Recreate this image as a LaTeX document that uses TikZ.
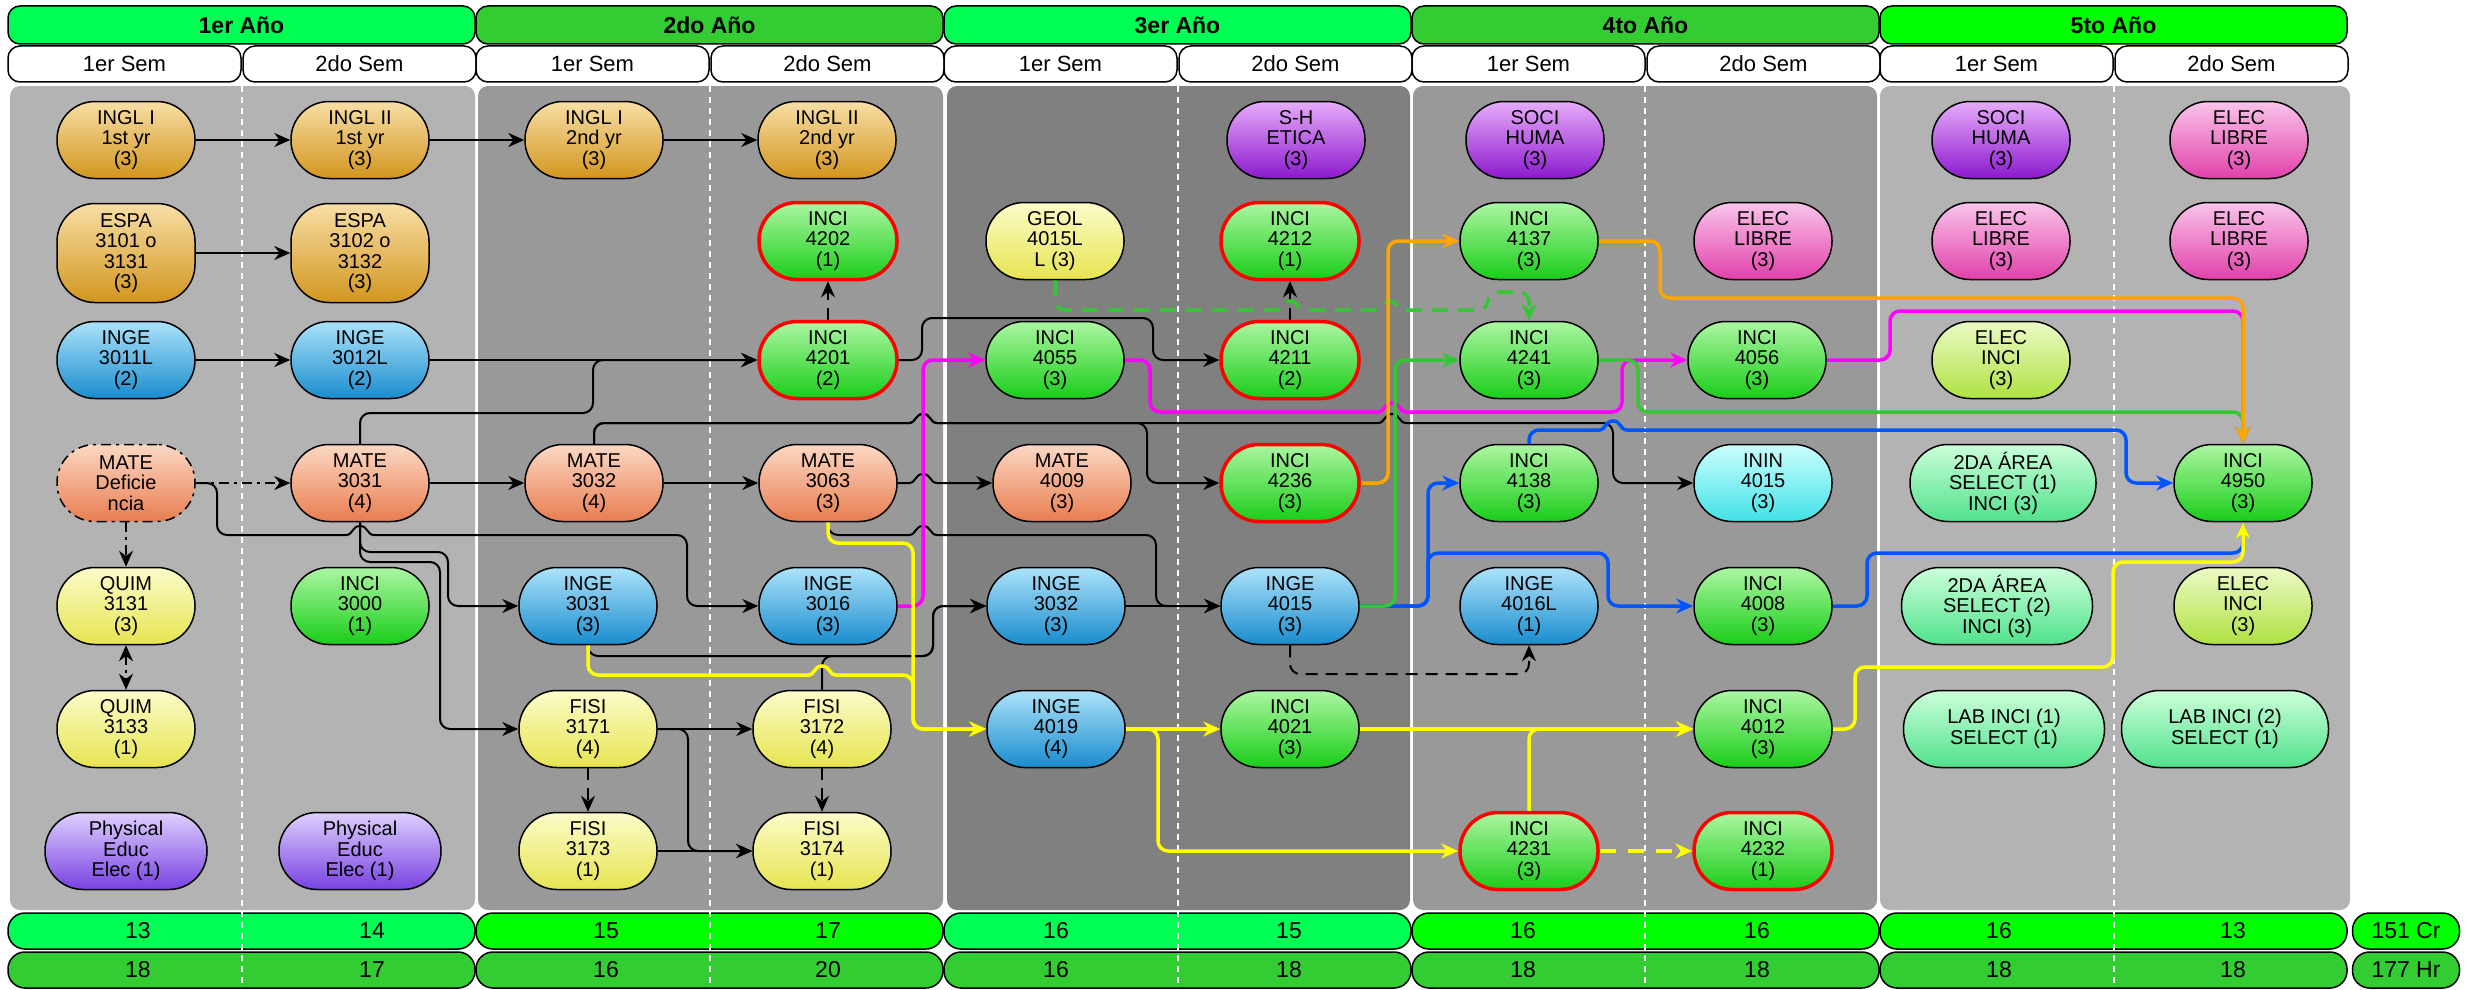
\documentclass[tikz,border=0pt]{standalone}
\usepackage{fontspec}
\setmainfont{Liberation Sans}
\usetikzlibrary{arrows.meta}

\definecolor{anioA}{RGB}{0,255,85}
\definecolor{anioB}{RGB}{51,204,51}
\definecolor{anioC}{RGB}{0,255,0}
\definecolor{panelA}{RGB}{179,179,179}
\definecolor{panelB}{RGB}{153,153,153}
\definecolor{panelC}{RGB}{128,128,128}
\definecolor{oroT}{RGB}{248,222,166}
\definecolor{oroB}{RGB}{210,150,30}
\definecolor{azulT}{RGB}{172,226,250}
\definecolor{azulB}{RGB}{25,140,205}
\definecolor{salmonT}{RGB}{252,216,196}
\definecolor{salmonB}{RGB}{232,125,80}
\definecolor{amarT}{RGB}{252,252,202}
\definecolor{amarB}{RGB}{230,228,80}
\definecolor{verdeT}{RGB}{172,246,162}
\definecolor{verdeB}{RGB}{25,205,25}
\definecolor{lilaT}{RGB}{222,208,255}
\definecolor{lilaB}{RGB}{120,65,225}
\definecolor{moradoT}{RGB}{230,172,250}
\definecolor{moradoB}{RGB}{140,25,205}
\definecolor{rosaT}{RGB}{250,196,235}
\definecolor{rosaB}{RGB}{225,65,170}
\definecolor{cianT}{RGB}{204,255,255}
\definecolor{cianB}{RGB}{65,225,230}
\definecolor{limaT}{RGB}{236,250,198}
\definecolor{limaB}{RGB}{175,225,65}
\definecolor{mentaT}{RGB}{204,255,218}
\definecolor{mentaB}{RGB}{80,225,140}
\definecolor{lineaN}{RGB}{255,165,0}
\definecolor{lineaV}{RGB}{51,200,51}
\definecolor{lineaA}{RGB}{0,85,255}
\definecolor{lineaM}{RGB}{255,0,255}
\definecolor{lineaY}{RGB}{255,255,0}

\tikzset{
	curso/.style={draw=black, line width=1.5pt, rounded corners=38pt, minimum width=138pt,
		minimum height=77pt, inner sep=0pt, align=center, font=\fontsize{20}{20.5}\selectfont},
	rojo/.style={draw=red, line width=3.5pt},
	oro/.style={top color=oroT, bottom color=oroB},
	azul/.style={top color=azulT, bottom color=azulB},
	salmon/.style={top color=salmonT, bottom color=salmonB},
	amar/.style={top color=amarT, bottom color=amarB},
	verde/.style={top color=verdeT, bottom color=verdeB},
	lila/.style={top color=lilaT, bottom color=lilaB},
	morado/.style={top color=moradoT, bottom color=moradoB},
	rosa/.style={top color=rosaT, bottom color=rosaB},
	cian/.style={top color=cianT, bottom color=cianB},
	lima/.style={top color=limaT, bottom color=limaB},
	menta/.style={top color=mentaT, bottom color=mentaB},
	anio/.style={draw=black, line width=1.5pt, rounded corners=12pt, minimum width=467pt,
		minimum height=38pt, font=\bfseries\fontsize{23}{23}\selectfont},
	sem/.style={draw=black, line width=1.5pt, fill=white, rounded corners=12pt, minimum width=233pt,
		minimum height=36pt, font=\fontsize{22}{22}\selectfont},
	pie/.style={draw=black, line width=1.5pt, rounded corners=17pt, minimum width=467pt, minimum height=36pt},
	num/.style={font=\fontsize{23}{23}\selectfont},
	negra/.style={draw=black, line width=2pt, rounded corners=10pt, -{Stealth[length=16pt,width=14pt]}},
	gruesa/.style={line width=3.5pt, rounded corners=10pt, -{Stealth[length=17pt,width=15pt]}},
	rayas/.style={dash pattern=on 12pt off 8pt},
	puntoraya/.style={dash pattern=on 10pt off 5pt on 3pt off 5pt},
	semraya/.style={draw=white, line width=1.5pt, dash pattern=on 6pt off 5pt},
	salto/.style 2 args={insert path={[sharp corners] -- (#1-14,#2) .. controls (#1-7,#2) and (#1-8,#2-9) .. (#1,#2-9)
		.. controls (#1+8,#2-9) and (#1+7,#2) .. (#1+14,#2) [rounded corners=10pt]}}
}

\begin{document}
\begin{tikzpicture}[x=1pt,y=-1pt]
	\useasboundingbox (0,0) rectangle (2466,990);

	\fill[panelA, rounded corners=10pt] (10,86) rectangle (475,910);
	\fill[panelB, rounded corners=10pt] (478,86) rectangle (943,910);
	\fill[panelC, rounded corners=10pt] (947,86) rectangle (1410,910);
	\fill[panelB, rounded corners=10pt] (1413,86) rectangle (1877,910);
	\fill[panelA, rounded corners=10pt] (1880,86) rectangle (2350,910);

	\node[anio, fill=anioA] (y1) at (241.5,25) {1er Año};
	\node[anio, fill=anioB] (y2) at (709.5,25) {2do Año};
	\node[anio, fill=anioA] (y3) at (1177.5,25) {3er Año};
	\node[anio, fill=anioB] (y4) at (1645.5,25) {4to Año};
	\node[anio, fill=anioC] (y5) at (2113.5,25) {5to Año};
	\node[sem] (s1) at (124.5,64) {1er Sem};
	\node[sem] (s2) at (359.5,64) {2do Sem};
	\node[sem] (s3) at (592.5,64) {1er Sem};
	\node[sem] (s4) at (827.5,64) {2do Sem};
	\node[sem] (s5) at (1060.5,64) {1er Sem};
	\node[sem] (s6) at (1295.5,64) {2do Sem};
	\node[sem] (s7) at (1528.5,64) {1er Sem};
	\node[sem] (s8) at (1763.5,64) {2do Sem};
	\node[sem] (s9) at (1996.5,64) {1er Sem};
	\node[sem] (s10) at (2231.5,64) {2do Sem};

	\node[pie, fill=anioA] (cr1) at (241.5,931) {};
	\node[pie, fill=anioC] (cr2) at (709.5,931) {};
	\node[pie, fill=anioA] (cr3) at (1177.5,931) {};
	\node[pie, fill=anioC] (cr4) at (1645.5,931) {};
	\node[pie, fill=anioC] (cr5) at (2113.5,931) {};
	\node[pie, fill=anioB] (hr1) at (241.5,970) {};
	\node[pie, fill=anioB] (hr2) at (709.5,970) {};
	\node[pie, fill=anioB] (hr3) at (1177.5,970) {};
	\node[pie, fill=anioB] (hr4) at (1645.5,970) {};
	\node[pie, fill=anioB] (hr5) at (2113.5,970) {};
	\node[pie, fill=anioC, minimum width=107pt, num] (totcr) at (2406,931) {151 Cr};
	\node[pie, fill=anioB, minimum width=107pt, num] (tothr) at (2406,970) {177 Hr};

	\draw[semraya] (242,86) -- (242,988);
	\draw[semraya] (710,86) -- (710,988);
	\draw[semraya] (1178,86) -- (1178,988);
	\draw[semraya] (1645,86) -- (1645,988);
	\draw[semraya] (2114,86) -- (2114,988);

	\node[num] (c1) at (138,931) {13};
	\node[num] (c2) at (372,931) {14};
	\node[num] (c3) at (606,931) {15};
	\node[num] (c4) at (828,931) {17};
	\node[num] (c5) at (1056,931) {16};
	\node[num] (c6) at (1289,931) {15};
	\node[num] (c7) at (1523,931) {16};
	\node[num] (c8) at (1757,931) {16};
	\node[num] (c9) at (1999,931) {16};
	\node[num] (c10) at (2233,931) {13};
	\node[num] (h1) at (138,970) {18};
	\node[num] (h2) at (372,970) {17};
	\node[num] (h3) at (606,970) {16};
	\node[num] (h4) at (828,970) {20};
	\node[num] (h5) at (1056,970) {16};
	\node[num] (h6) at (1289,970) {18};
	\node[num] (h7) at (1523,970) {18};
	\node[num] (h8) at (1757,970) {18};
	\node[num] (h9) at (1999,970) {18};
	\node[num] (h10) at (2233,970) {18};

	\node[curso,oro] (inglA) at (126,140) {INGL I\\1st yr\\(3)};
	\node[curso,oro,minimum height=99pt] (espaA) at (126,253) {ESPA\\3101 o\\3131\\(3)};
	\node[curso,azul] (inge3011) at (126,360) {INGE\\3011L\\(2)};
	\node[curso,salmon,puntoraya] (matedef) at (126,483) {MATE\\Deficie\\ncia};
	\node[curso,amar] (quim3131) at (126,606) {QUIM\\3131\\(3)};
	\node[curso,amar] (quim3133) at (126,729) {QUIM\\3133\\(1)};
	\node[curso,lila,minimum width=162pt] (educA) at (126,851) {Physical\\Educ\\Elec (1)};

	\node[curso,oro] (inglB) at (360,140) {INGL II\\1st yr\\(3)};
	\node[curso,oro,minimum height=99pt] (espaB) at (360,253) {ESPA\\3102 o\\3132\\(3)};
	\node[curso,azul] (inge3012) at (360,360) {INGE\\3012L\\(2)};
	\node[curso,salmon] (mate3031) at (360,483) {MATE\\3031\\(4)};
	\node[curso,verde] (inci3000) at (360,606) {INCI\\3000\\(1)};
	\node[curso,lila,minimum width=162pt] (educB) at (360,851) {Physical\\Educ\\Elec (1)};

	\node[curso,oro] (inglC) at (594,140) {INGL I\\2nd yr\\(3)};
	\node[curso,salmon] (mate3032) at (594,483) {MATE\\3032\\(4)};
	\node[curso,azul] (inge3031) at (588,606) {INGE\\3031\\(3)};
	\node[curso,amar] (fisi3171) at (588,729) {FISI\\3171\\(4)};
	\node[curso,amar] (fisi3173) at (588,851) {FISI\\3173\\(1)};

	\node[curso,oro] (inglD) at (827,140) {INGL II\\2nd yr\\(3)};
	\node[curso,verde,rojo] (inci4202) at (828,241) {INCI\\4202\\(1)};
	\node[curso,verde,rojo] (inci4201) at (828,360) {INCI\\4201\\(2)};
	\node[curso,salmon] (mate3063) at (828,483) {MATE\\3063\\(3)};
	\node[curso,azul] (inge3016) at (828,606) {INGE\\3016\\(3)};
	\node[curso,amar] (fisi3172) at (822,729) {FISI\\3172\\(4)};
	\node[curso,amar] (fisi3174) at (822,851) {FISI\\3174\\(1)};

	\node[curso,amar] (geol) at (1055,241) {GEOL\\4015L\\L (3)};
	\node[curso,verde] (inci4055) at (1055,360) {INCI\\4055\\(3)};
	\node[curso,salmon] (mate4009) at (1062,483) {MATE\\4009\\(3)};
	\node[curso,azul] (inge3032) at (1056,606) {INGE\\3032\\(3)};
	\node[curso,azul] (inge4019) at (1056,729) {INGE\\4019\\(4)};

	\node[curso,morado] (sh) at (1296,140) {S-H\\ETICA\\(3)};
	\node[curso,verde,rojo] (inci4212) at (1290,241) {INCI\\4212\\(1)};
	\node[curso,verde,rojo] (inci4211) at (1290,360) {INCI\\4211\\(2)};
	\node[curso,verde,rojo] (inci4236) at (1290,483) {INCI\\4236\\(3)};
	\node[curso,azul] (inge4015) at (1290,606) {INGE\\4015\\(3)};
	\node[curso,verde] (inci4021) at (1290,729) {INCI\\4021\\(3)};

	\node[curso,morado] (sociA) at (1535,140) {SOCI\\HUMA\\(3)};
	\node[curso,verde] (inci4137) at (1529,241) {INCI\\4137\\(3)};
	\node[curso,verde] (inci4241) at (1529,360) {INCI\\4241\\(3)};
	\node[curso,verde] (inci4138) at (1529,483) {INCI\\4138\\(3)};
	\node[curso,azul] (inge4016) at (1529,606) {INGE\\4016L\\(1)};
	\node[curso,verde,rojo] (inci4231) at (1529,851) {INCI\\4231\\(3)};

	\node[curso,rosa] (elecA) at (1763,241) {ELEC\\LIBRE\\(3)};
	\node[curso,verde] (inci4056) at (1757,360) {INCI\\4056\\(3)};
	\node[curso,cian] (inin4015) at (1763,483) {ININ\\4015\\(3)};
	\node[curso,verde] (inci4008) at (1763,606) {INCI\\4008\\(3)};
	\node[curso,verde] (inci4012) at (1763,729) {INCI\\4012\\(3)};
	\node[curso,verde,rojo] (inci4232) at (1763,851) {INCI\\4232\\(1)};

	\node[curso,morado] (sociB) at (2001,140) {SOCI\\HUMA\\(3)};
	\node[curso,rosa] (elecB) at (2001,241) {ELEC\\LIBRE\\(3)};
	\node[curso,lima] (eleinA) at (2001,360) {ELEC\\INCI\\(3)};
	\node[curso,menta,minimum width=186pt] (areaA) at (2003,483) {2DA ÁREA\\SELECT (1)\\INCI (3)};
	\node[curso,menta,minimum width=191pt] (areaB) at (1997,606) {2DA ÁREA\\SELECT (2)\\INCI (3)};
	\node[curso,menta,minimum width=201pt] (labA) at (2004,729) {LAB INCI (1)\\SELECT (1)};

	\node[curso,rosa] (elecC) at (2239,140) {ELEC\\LIBRE\\(3)};
	\node[curso,rosa] (elecD) at (2239,241) {ELEC\\LIBRE\\(3)};
	\node[curso,verde] (inci4950) at (2243,483) {INCI\\4950\\(3)};
	\node[curso,lima] (eleinB) at (2243,606) {ELEC\\INCI\\(3)};
	\node[curso,menta,minimum width=207pt] (labB) at (2225,729) {LAB INCI (2)\\SELECT (1)};

	\draw[negra] (inglA) -- (inglB);
	\draw[negra] (inglB) -- (inglC);
	\draw[negra] (inglC) -- (inglD);
	\draw[negra] (espaA) -- (espaB);
	\draw[negra] (inge3011) -- (inge3012);
	\draw[negra] (inge3012) -- (inci4201);
	\draw[negra] (mate3031.north) |- (593,413) |- (inci4201.west);
	\draw[negra] (mate3031) -- (mate3032);
	\draw[negra] (mate3032) -- (mate3063);
	\draw[negra] (mate3063.east) [salto={923}{483}] -- (mate4009.west);
	\draw[negra] (inci4201.east) -| (922,318) -| (1153,360) -- (inci4211.west);
	\draw[negra] (mate3032.north) |- (900,423) [salto={923}{423}] -- (1147,423) |- (inci4236.west);
	\draw[negra] (mate3032.north) |- (900,423) [salto={923}{423}] [salto={1392}{423}] -- (1613,423) |- (inin4015.west);
	\draw[negra] (matedef.east) -| (217,535) [salto={360}{535}] -| (687,606) -- (inge3016.west);
	\draw[negra] (mate3031.south) |- (448,552) |- (inge3031.west);
	\draw[negra] (mate3031.south) |- (440,562) |- (fisi3171.west);
	\draw[negra] (mate3063.south) |- (900,535) [salto={923}{535}] -- (1156,535) |- (inge4015.west);
	\draw[negra] (inge3031.south) |- (933,656) |- (inge3032.west);
	\draw[negra] (fisi3172.north) |- (933,656) |- (inge3032.west);
	\draw[negra] (fisi3171) -- (fisi3172);
	\draw[negra] (fisi3171.east) -| (688,851) -- (fisi3174.west);
	\draw[negra] (fisi3173) -- (fisi3174);
	\draw[negra] (inge3032) -- (inge4015);
	\draw[negra,rayas] (fisi3171) -- (fisi3173);
	\draw[negra,rayas] (fisi3172) -- (fisi3174);
	\draw[negra,rayas] (inci4201) -- (inci4202);
	\draw[negra,rayas] (inci4211) -- (inci4212);
	\draw[negra,rayas] (inge4015.south) |- (1529,674) -- (inge4016.south);
	\draw[negra,puntoraya] (matedef) -- (mate3031);
	\draw[negra,puntoraya] (matedef) -- (quim3131);
	\draw[negra,puntoraya,{Stealth[length=16pt,width=14pt]}-{Stealth[length=16pt,width=14pt]}] (quim3131) -- (quim3133);

	\draw[gruesa,lineaV,dash pattern=on 16pt off 10pt] (geol.south) |- (1260,310) [salto={1290}{310}]
		[salto={1390}{310}] -- (1488,310) |- (1529,292) -- (inci4241.north);
	\draw[gruesa,lineaA] (inge4015.east) -| (1428,483) -- (inci4138.west);
	\draw[gruesa,lineaA] (inge4015.east) -| (1428,553) -| (1608,606) -- (inci4008.west);
	\draw[gruesa,lineaA] (inci4138.north) |- (1590,430) [salto={1613}{430}] -- (2126,430) |- (inci4950.west);
	\draw[gruesa,lineaA] (inci4008.east) -| (1867,553) -| (inci4950.south);
	\draw[gruesa,lineaM] (inge3016.east) -| (923,360) -- (inci4055.west);
	\draw[gruesa,lineaM] (inci4055.east) -| (1150,412) [salto={1392}{412}] -| (1622,360) -- (inci4056.west);
	\draw[gruesa,lineaM] (inci4056.east) -| (1890,311) -| (inci4950.north);
	\draw[gruesa,lineaV] (inge4015.east) -| (1395,360) -- (inci4241.west);
	\draw[gruesa,lineaV] (inci4241.east) -| (1638,412) -| (inci4950.north);
	\draw[gruesa,lineaY] (inge3031.south) |- (800,675) [salto={822}{675}] -- (913,675) |- (inge4019.west);
	\draw[gruesa,lineaY] (mate3063.south) |- (913,543) |- (inge4019.west);
	\draw[gruesa,lineaY] (inge4019) -- (inci4021);
	\draw[gruesa,lineaY] (inge4019.east) -| (1158,851) -- (inci4231.west);
	\draw[gruesa,lineaY] (inci4021) -- (inci4012);
	\draw[gruesa,lineaY] (inci4231.north) |- (inci4012.west);
	\draw[gruesa,lineaY] (inci4012.east) -| (1855,667) -| (2113,562) -| (inci4950.south);
	\draw[gruesa,lineaY,dash pattern=on 16pt off 12pt] (inci4231) -- (inci4232);
	\draw[gruesa,lineaN] (inci4236.east) -| (1388,241) -- (inci4137.west);
	\draw[gruesa,lineaN] (inci4137.east) -| (1660,298) -| (inci4950.north);
\end{tikzpicture}
\end{document}
